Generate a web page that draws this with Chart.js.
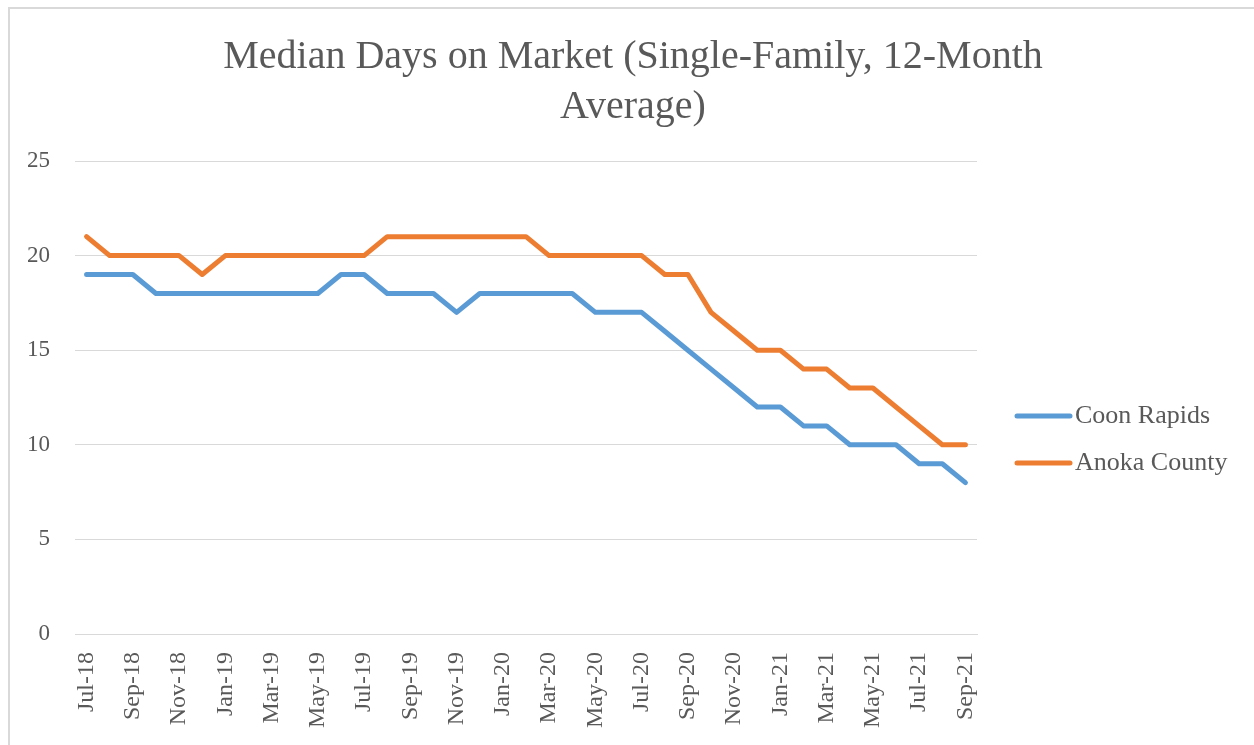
<!DOCTYPE html>
<html>
<head>
<meta charset="utf-8">
<script src="https://cdn.jsdelivr.net/npm/chart.js@4"></script>
<style>
  html, body { margin: 0; padding: 0; background: #fff; }
  #wrap { width: 1254px; height: 745px; }
</style>
</head>
<body>
<div id="wrap"><canvas id="myChart" width="1254" height="745"></canvas></div>
<script>
// Meses del eje X (Jul-18 a Sep-21)
const meses = [
  "Jul-18","Aug-18","Sep-18","Oct-18","Nov-18","Dec-18",
  "Jan-19","Feb-19","Mar-19","Apr-19","May-19","Jun-19",
  "Jul-19","Aug-19","Sep-19","Oct-19","Nov-19","Dec-19",
  "Jan-20","Feb-20","Mar-20","Apr-20","May-20","Jun-20",
  "Jul-20","Aug-20","Sep-20","Oct-20","Nov-20","Dec-20",
  "Jan-21","Feb-21","Mar-21","Apr-21","May-21","Jun-21",
  "Jul-21","Aug-21","Sep-21"
];

// Valores
const coonRapids = [
  19,19,19,18,18,18,
  18,18,18,18,18,19,
  19,18,18,18,17,18,
  18,18,18,18,17,17,
  17,16,15,14,13,12,
  12,11,11,10,10,10,
  9,9,8
];
const anokaCounty = [
  21,20,20,20,20,19,
  20,20,20,20,20,20,
  20,21,21,21,21,21,
  21,21,20,20,20,20,
  20,19,19,17,16,15,
  15,14,14,13,13,12,
  11,10,10
];

const yTicks = [0, 5, 10, 15, 20, 25];
const titulo = ["Median Days on Market (Single-Family, 12-Month", "Average)"];

const fuente = '"Palatino Linotype", "Book Antiqua", Palatino, "Liberation Serif", serif';
const gris = "#595959";

// Marco gris alrededor del grafico
const marco = {
  id: "marco",
  afterDraw(chart) {
    const ctx = chart.ctx;
    ctx.save();
    ctx.strokeStyle = "#d9d9d9";
    ctx.lineWidth = 2;
    ctx.strokeRect(9, 8, 1270, 780);
    ctx.restore();
  }
};

// Leyenda a la derecha, como en Excel
const leyenda = {
  id: "leyenda",
  afterDraw(chart) {
    const ctx = chart.ctx;
    const x0 = chart.chartArea.right + 40;
    const filas = [416, 463];
    ctx.save();
    chart.data.datasets.forEach((ds, i) => {
      const y = filas[i];
      ctx.strokeStyle = ds.borderColor;
      ctx.lineWidth = 5;
      ctx.lineCap = "round";
      ctx.beginPath();
      ctx.moveTo(x0, y);
      ctx.lineTo(x0 + 53, y);
      ctx.stroke();
      ctx.fillStyle = gris;
      ctx.font = "26px " + fuente;
      ctx.textBaseline = "middle";
      ctx.fillText(ds.label, x0 + 58, y);
    });
    ctx.restore();
  }
};

function crearDatos() {
  return {
    labels: meses,
    datasets: [
      { label: "Coon Rapids", data: coonRapids, borderColor: "#5b9bd5" },
      { label: "Anoka County", data: anokaCounty, borderColor: "#ed7d31" }
    ].map(d => ({
      ...d,
      borderWidth: 5,
      pointRadius: 0,
      tension: 0,
      fill: false,
      borderJoinStyle: "round",
      borderCapStyle: "round"
    }))
  };
}

const canvas = document.querySelector("#myChart");
const myChart = new Chart(canvas, {
  type: "line",
  data: crearDatos(),
  options: {
    responsive: false,
    animation: false,
    layout: { padding: { left: 14, right: 2, top: 8, bottom: 0 } },
    plugins: {
      legend: { display: false },
      tooltip: { enabled: false },
      title: {
        display: true,
        text: titulo,
        color: gris,
        font: { family: fuente, size: 40, weight: "normal", lineHeight: 50 / 40 },
        padding: { top: 24, bottom: 29 }
      }
    },
    scales: {
      x: {
        offset: true,
        grid: { display: false, drawTicks: false },
        border: { display: true, color: "#d9d9d9", width: 1 },
        afterFit(s) { s.height = 111; },
        ticks: {
          autoSkip: false,
          maxRotation: 90,
          minRotation: 90,
          padding: 18,
          color: gris,
          font: { family: fuente, size: 24 },
          callback(v, i) { return i % 2 === 0 ? meses[i] : ""; }
        }
      },
      y: {
        min: 0,
        max: 25,
        afterFit(s) { s.width = 61; },
        afterBuildTicks(s) { s.ticks = yTicks.map(v => ({ value: v })); },
        grid: { color: "#d9d9d9", lineWidth: 1, drawTicks: false },
        border: { display: false },
        ticks: {
          padding: 25,
          color: gris,
          font: { family: fuente, size: 23 }
        }
      },
      // espacio reservado para la leyenda
      espacio: {
        type: "linear",
        position: "right",
        display: true,
        afterFit(s) { s.width = 275; },
        grid: { display: false, drawTicks: false },
        border: { display: false },
        ticks: { display: false }
      }
    }
  },
  plugins: [marco, leyenda]
});
</script>
</body>
</html>
